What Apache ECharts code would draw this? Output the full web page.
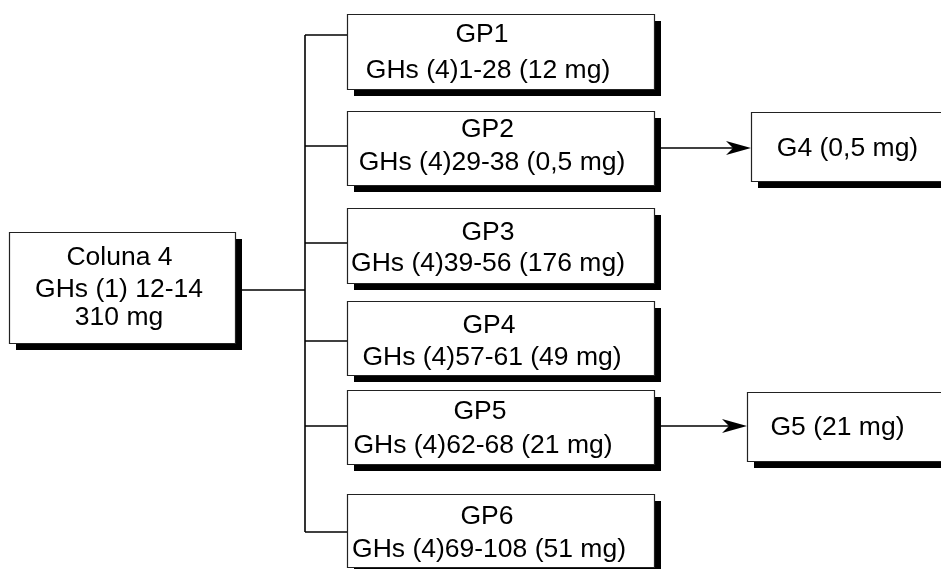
<!DOCTYPE html>
<html><head><meta charset="utf-8">
<script src="https://cdn.jsdelivr.net/npm/echarts@6/dist/echarts.min.js"></script>
<style>html,body{margin:0;padding:0;background:#fff}#c{width:941px;height:569px}</style>
</head><body><div id="c"></div>
<script>
// ---- content ----
const sourceLines = ['Coluna 4', 'GHs (1) 12-14', '310 mg'];
const groupNames = ['GP1', 'GP2', 'GP3', 'GP4', 'GP5', 'GP6'];
const groupRanges = ['GHs (4)1-28 (12 mg)', 'GHs (4)29-38 (0,5 mg)', 'GHs (4)39-56 (176 mg)',
  'GHs (4)57-61 (49 mg)', 'GHs (4)62-68 (21 mg)', 'GHs (4)69-108 (51 mg)'];
const subNames = ['G4 (0,5 mg)', 'G5 (21 mg)'];
const subParents = ['GP2', 'GP5'];

// ---- layout (diagram units on a 941 x 569 canvas) ----
const srcBox = {x0: 9, y0: 232, x1: 235, y1: 343, tx: [119.5, 119, 119], ty: [256, 288.5, 316]};
const gpX0 = 347, gpX1 = 654;
const gpTop = [14, 111, 208, 301, 390, 494];
const gpBot = [89, 185, 283, 375, 464, 567];
const gpLink = [35, 146, 243, 341, 426, 532];
const gpNameXY = [[482, 33], [487.5, 128.5], [488, 231], [489, 324], [480, 410.5], [487, 515.5]];
const gpRangeXY = [[488, 69], [492, 161], [488, 262.5], [492, 356], [483, 444], [489, 548]];
const subLayout = [
  {x0: 751, y0: 112, x1: 960, y1: 181, tx: 847.5, ty: 147.5, ay: 148},
  {x0: 747, y0: 392, x1: 960, y1: 461, tx: 837.5, ty: 426, ay: 426}
];
const trunkX = 305, srcLinkY = 290, SH = 7, TEXT_DY = 1.5;
const FONT = '26.5px "Liberation Sans", Arial, sans-serif';

// ---- build diagram elements ----
const elements = [];
elements.push({kind: 'line', pts: [[srcBox.x1, srcLinkY], [trunkX, srcLinkY]]});
elements.push({kind: 'line', pts: [[trunkX, gpLink[0]], [trunkX, gpLink[gpLink.length - 1]]]});
gpLink.forEach(y => elements.push({kind: 'line', pts: [[trunkX, y], [gpX0, y]]}));
subNames.forEach((n, i) => {
  const L = subLayout[i];
  elements.push({kind: 'arrow', from: [gpX1 + SH, L.ay], to: [L.x0, L.ay]});
});
elements.push({kind: 'box', x0: srcBox.x0, y0: srcBox.y0, x1: srcBox.x1, y1: srcBox.y1,
  texts: sourceLines.map((t, i) => ({t, x: srcBox.tx[i], y: srcBox.ty[i]}))});
groupNames.forEach((g, i) => {
  elements.push({kind: 'box', x0: gpX0, y0: gpTop[i], x1: gpX1, y1: gpBot[i],
    texts: [{t: g, x: gpNameXY[i][0], y: gpNameXY[i][1]}, {t: groupRanges[i], x: gpRangeXY[i][0], y: gpRangeXY[i][1]}]});
});
subNames.forEach((n, i) => {
  const L = subLayout[i];
  elements.push({kind: 'box', x0: L.x0, y0: L.y0, x1: L.x1, y1: L.y1, texts: [{t: n, x: L.tx, y: L.ty}]});
});

function renderItem(params, api) {
  const e = elements[api.value(0)];
  const c = p => api.coord(p);
  if (e.kind === 'line') {
    const a = c(e.pts[0]), b = c(e.pts[1]);
    return {type: 'line', z2: 1, shape: {x1: a[0], y1: a[1], x2: b[0], y2: b[1]},
      style: {stroke: '#000', lineWidth: 1.6}};
  }
  if (e.kind === 'arrow') {
    const a = c(e.from), b = c(e.to);
    return {type: 'group', children: [
      {type: 'line', z2: 1, shape: {x1: a[0], y1: a[1], x2: b[0] - 12, y2: b[1]}, style: {stroke: '#000', lineWidth: 1.6}},
      {type: 'polygon', z2: 1, shape: {points: [[b[0], b[1]], [b[0] - 25, b[1] - 7], [b[0] - 18, b[1]], [b[0] - 25, b[1] + 7]]},
        style: {fill: '#000'}}
    ]};
  }
  const p0 = c([e.x0, e.y0]), p1 = c([e.x1, e.y1]);
  const w = p1[0] - p0[0], h = p1[1] - p0[1];
  const children = [
    {type: 'rect', z2: 2, shape: {x: p0[0] + SH, y: p0[1] + SH, width: w, height: h}, style: {fill: '#000'}},
    {type: 'rect', z2: 3, shape: {x: p0[0] + 0.5, y: p0[1] + 0.5, width: w, height: h},
      style: {fill: '#fff', stroke: '#222', lineWidth: 1.2}}
  ];
  e.texts.forEach(tt => {
    const q = c([tt.x, tt.y + TEXT_DY]);
    children.push({type: 'text', z2: 4, x: q[0], y: q[1],
      style: {text: tt.t, font: FONT, fill: '#000', align: 'center', verticalAlign: 'middle'}});
  });
  return {type: 'group', children};
}

const chart = echarts.init(document.getElementById('c'), null, {renderer: 'canvas'});
chart.setOption({
  animation: false,
  backgroundColor: '#fff',
  grid: {left: 0, right: 0, top: 0, bottom: 0},
  xAxis: {type: 'value', min: 0, max: 941, show: false},
  yAxis: {type: 'value', min: 0, max: 569, inverse: true, show: false},
  series: [{
    type: 'custom',
    coordinateSystem: 'cartesian2d',
    silent: true,
    clip: false,
    renderItem,
    encode: {x: 0, y: 0},
    data: elements.map((e, i) => [i])
  }]
});
</script>
</body></html>
